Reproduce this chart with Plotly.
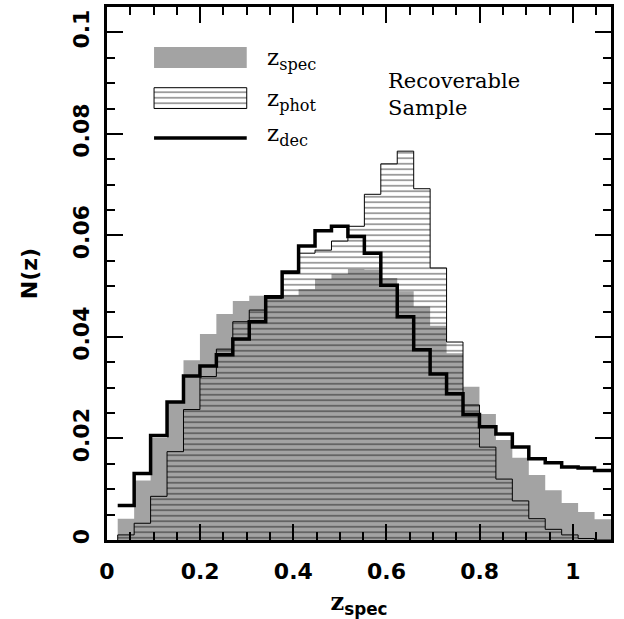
import plotly.graph_objects as go

# ---- data ----
bin_start = 0.023
bin_width = 0.0353

z_spec = [0.0042, 0.0117, 0.0201, 0.0270, 0.0354, 0.0406, 0.0445, 0.0471, 0.0481, 0.0481,
          0.0482, 0.0494, 0.0514, 0.0524, 0.0534, 0.0533, 0.0516, 0.0490, 0.0460, 0.0422,
          0.0368, 0.0302, 0.0248, 0.0197, 0.0162, 0.0128, 0.0098, 0.0073, 0.0055, 0.0041]
z_phot = [0.0010, 0.0033, 0.0086, 0.0174, 0.0257, 0.0322, 0.0376, 0.0430, 0.0453, 0.0476,
          0.0525, 0.0565, 0.0571, 0.0589, 0.0618, 0.0681, 0.0741, 0.0766, 0.0692, 0.0536,
          0.0390, 0.0266, 0.0183, 0.0120, 0.0077, 0.0042, 0.0021, 0.0010, 0.0003, 0.0000]
z_dec = [0.0068, 0.0131, 0.0206, 0.0272, 0.0323, 0.0343, 0.0365, 0.0396, 0.0430, 0.0479,
         0.0528, 0.0579, 0.0609, 0.0618, 0.0598, 0.0565, 0.0502, 0.0440, 0.0375, 0.0327,
         0.0288, 0.0247, 0.0223, 0.0209, 0.0183, 0.0160, 0.0152, 0.0144, 0.0142, 0.0137]

legend_labels = ["z<sub>spec</sub>", "z<sub>phot</sub>", "z<sub>dec</sub>"]
panel_text = "Recoverable<br>Sample"

n = len(z_spec)
edges = [bin_start + bin_width * i for i in range(n + 1)]

GRAY = "#a3a3a3"
SERIF = "DejaVu Serif"
SANS = "DejaVu Sans"
HATCH = dict(shape="-", size=5.5, solidity=0.26, fgcolor="black",
             bgcolor="rgba(0,0,0,0)", fillmode="overlay")

fig = go.Figure()

# z_spec : gray filled histogram
fig.add_trace(go.Scatter(
    x=[edges[0]] + edges[:n] + [edges[n]], y=[0] + z_spec + [0],
    mode="lines", line=dict(shape="hv", width=0, color=GRAY),
    fill="tozeroy", fillcolor=GRAY, showlegend=False, hoverinfo="skip"))

# z_phot : hatched histogram with thin outline
fig.add_trace(go.Scatter(
    x=[edges[0]] + edges[:n] + [edges[n]], y=[0] + z_phot + [0],
    mode="lines", line=dict(shape="hv", width=1, color="black"),
    fill="tozeroy", fillcolor="rgba(0,0,0,0)", fillpattern=HATCH,
    showlegend=False, hoverinfo="skip"))

# z_dec : thick step line
fig.add_trace(go.Scatter(
    x=edges, y=z_dec + [z_dec[-1]],
    mode="lines", line=dict(shape="hv", width=3.5, color="black"),
    showlegend=False, hoverinfo="skip"))

# ---- legend glyphs ----
lx0, lx1 = 0.101, 0.300
fig.add_trace(go.Scatter(x=[lx0, lx1, lx1, lx0, lx0], y=[0.0930, 0.0930, 0.0971, 0.0971, 0.0930],
                         mode="lines", line=dict(width=0, color=GRAY), fill="toself",
                         fillcolor=GRAY, showlegend=False, hoverinfo="skip"))
fig.add_trace(go.Scatter(x=[lx0, lx1, lx1, lx0, lx0], y=[0.0850, 0.0850, 0.0891, 0.0891, 0.0850],
                         mode="lines", line=dict(width=1, color="black"), fill="toself",
                         fillcolor="rgba(0,0,0,0)", fillpattern=HATCH,
                         showlegend=False, hoverinfo="skip"))
fig.add_trace(go.Scatter(x=[lx0, lx1], y=[0.0792, 0.0792], mode="lines",
                         line=dict(width=3.5, color="black"), showlegend=False, hoverinfo="skip"))

for lab, yy in zip(legend_labels, [0.0948, 0.0866, 0.0797]):
    fig.add_annotation(x=0.340, y=yy, xref="x", yref="y", text=lab, showarrow=False,
                       xanchor="left", yanchor="middle",
                       font=dict(family=SERIF, size=23, color="black"))

fig.add_annotation(x=0.600, y=0.0932, xref="x", yref="y", text=panel_text, showarrow=False,
                   xanchor="left", yanchor="top", align="left",
                   font=dict(family=SERIF, size=21, color="black"))

axis_common = dict(
    showline=True, linewidth=3, linecolor="black", mirror="allticks",
    ticks="inside", ticklen=16, tickwidth=2, tickcolor="black",
    showgrid=False, zeroline=False,
    tickfont=dict(family=SANS, size=22, color="black", weight="bold"),
)

fig.update_xaxes(range=[0, 1.082], tick0=0, dtick=0.2,
                 minor=dict(dtick=0.05, tick0=0, ticklen=8, tickwidth=2, ticks="inside",
                            tickcolor="black", showgrid=False),
                 ticklabelstandoff=10,
                 title=dict(text="<b>z</b><sub><span style=\"font-family:'DejaVu Sans'\"><b>spec</b></span></sub>",
                            font=dict(family=SERIF, size=24, color="black"), standoff=14),
                 **axis_common)
fig.update_yaxes(range=[0, 0.105], tick0=0, dtick=0.02, tickangle=-90,
                 minor=dict(dtick=0.005, tick0=0, ticklen=8, tickwidth=2, ticks="inside",
                            tickcolor="black", showgrid=False),
                 ticklabelstandoff=6,
                 title=dict(text="N(z)", font=dict(family=SANS, size=22, color="black", weight="bold"),
                            standoff=26),
                 **axis_common)

fig.update_layout(width=624, height=619, margin=dict(l=107, r=13, t=4, b=76),
                  plot_bgcolor="white", paper_bgcolor="white", showlegend=False)

fig.write_html("out.html")
